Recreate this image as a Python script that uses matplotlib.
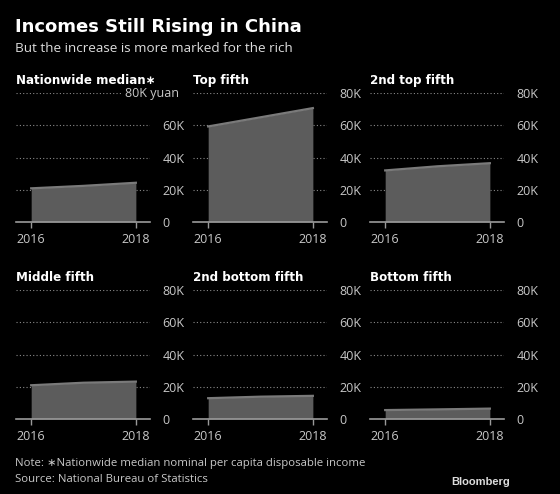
import matplotlib.pyplot as plt

years = [2016, 2017, 2018]
titles = ["Nationwide median\u2217", "Top fifth", "2nd top fifth",
          "Middle fifth", "2nd bottom fifth", "Bottom fifth"]
median = [20883, 22408, 24336]
top = [59259, 64934, 70640]
top2 = [31990, 34547, 36471]
middle = [20924, 22495, 23189]
bottom2 = [12899, 13843, 14361]
bottom = [5529, 5958, 6440]
series = [median, top, top2, middle, bottom2, bottom]
yticks = [0, 20000, 40000, 60000, 80000]
ylabels = ["0", "20K", "40K", "60K", "80K"]

plt.rcParams['font.family'] = ['Open Sans', 'DejaVu Sans']
fig = plt.figure(figsize=(5.6, 4.94), dpi=100, facecolor='black')
W, H = 560, 494

fig.text(15 / W, 1 - 27 / H, "Incomes Still Rising in China", color='white',
         fontsize=13, fontweight='bold', va='center', family='DejaVu Sans')
fig.text(15 / W, 1 - 49 / H, "But the increase is more marked for the rich",
         color='#dddddd', fontsize=9.7, va='center')

lefts = [16, 193, 370]
zeros = [222, 419]
for i, (title, vals) in enumerate(zip(titles, series)):
    r, c = divmod(i, 3)
    x0 = lefts[c]
    y0 = zeros[r]
    ax = fig.add_axes([x0 / W, 1 - y0 / H, 134 / W, 129 / H], facecolor='black')
    ax.fill_between(years, vals, 0, color='#5c5c5c', lw=0)
    ax.plot(years, vals, color='#7a7a7a', lw=1.6)
    ax.set_xlim(2015.71, 2018.27)
    ax.set_ylim(0, 80000)
    ax.set_xticks([2016, 2018])
    ax.set_xticklabels(["2016", "2018"])
    ax.set_yticks(yticks)
    labs = list(ylabels)
    if i == 0:
        labs[-1] = ""
    ax.set_yticklabels(labs)
    ax.yaxis.tick_right()
    ax.tick_params(axis='y', length=0, pad=9, labelcolor='#c8c8c8', labelsize=9)
    ax.tick_params(axis='x', length=4, width=1, color='#9a9a9a', pad=4,
                   labelcolor='#c8c8c8', labelsize=9)
    for s in ['top', 'left', 'right']:
        ax.spines[s].set_visible(False)
    ax.spines['bottom'].set_color('#9a9a9a')
    ax.spines['bottom'].set_linewidth(1.2)
    ax.set_axisbelow(True)
    ax.grid(axis='y', color='#8a8a8a', linestyle=(0, (1, 2)), lw=0.8)
    ax.text(0, 1.1, title, transform=ax.transAxes, color='white',
            fontsize=8.6, fontweight='bold', va='center', ha='left',
            family='DejaVu Sans')
    if i == 0:
        ax.text(1.22, 80000, "80K yuan", transform=ax.get_yaxis_transform(),
                color='#c8c8c8', fontsize=9, ha='right', va='center',
                clip_on=False,
                bbox=dict(facecolor='black', edgecolor='none', pad=2))

fig.text(15 / W, 1 - 463 / H,
         "Note: \u2217Nationwide median nominal per capita disposable income",
         color='#c8c8c8', fontsize=8.2, va='center')
fig.text(15 / W, 1 - 479 / H, "Source: National Bureau of Statistics",
         color='#c8c8c8', fontsize=8.2, va='center')
fig.text(510 / W, 1 - 482 / H, "Bloomberg", color='#dddddd', fontsize=8,
         fontweight='bold', va='center', ha='right', family='Liberation Sans')

fig.savefig("out.png", dpi=100, facecolor='black')
